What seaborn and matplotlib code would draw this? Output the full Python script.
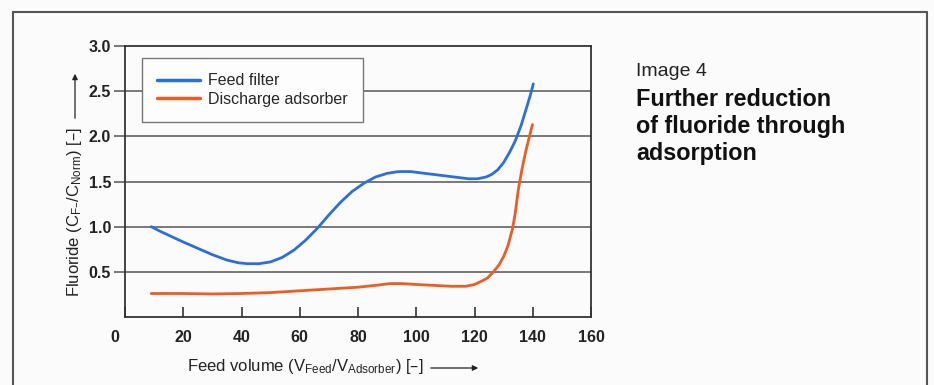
import matplotlib
matplotlib.use("Agg")
import matplotlib.pyplot as plt
import matplotlib.transforms as mtransforms
import seaborn as sns
import pandas as pd

# ---- data ----
feed_x = [9, 12, 16, 20, 25, 30, 35, 39, 42, 46, 50, 54, 58, 62, 66, 70, 74, 78, 82, 86, 90, 94,
          98, 103, 108, 113, 118, 121, 124, 126, 128, 130, 132, 134, 136, 138, 139.2, 140.2]
feed_y = [1.0, 0.95, 0.89, 0.83, 0.76, 0.69, 0.63, 0.60, 0.59, 0.59, 0.61, 0.66, 0.74, 0.85, 0.98,
          1.13, 1.27, 1.39, 1.48, 1.55, 1.59, 1.61, 1.61, 1.59, 1.57, 1.55, 1.53, 1.53, 1.55, 1.58,
          1.63, 1.71, 1.82, 1.95, 2.12, 2.33, 2.46, 2.58]

dis_x = [9, 20, 30, 40, 50, 60, 70, 80, 86, 91, 95, 100, 106, 112, 117, 120, 122, 124.4, 126.5,
         128.5, 130, 131.5, 133, 134, 135, 136.2, 137.5, 138.8, 139.9]
dis_y = [0.26, 0.26, 0.255, 0.26, 0.27, 0.29, 0.31, 0.33, 0.35, 0.37, 0.37, 0.36, 0.35, 0.34, 0.34,
         0.36, 0.39, 0.43, 0.50, 0.58, 0.67, 0.79, 0.97, 1.15, 1.40, 1.62, 1.82, 1.99, 2.13]

series_names = ["Feed filter", "Discharge adsorber"]
x_ticks = [0, 20, 40, 60, 80, 100, 120, 140, 160]
y_ticks = [0.5, 1.0, 1.5, 2.0, 2.5, 3.0]

df = pd.concat([
    pd.DataFrame({"x": feed_x, "y": feed_y, "series": series_names[0]}),
    pd.DataFrame({"x": dis_x, "y": dis_y, "series": series_names[1]}),
], ignore_index=True)

sns.set_style("white")
plt.rcParams["font.family"] = ["Liberation Sans", "DejaVu Sans"]
plt.rcParams["mathtext.default"] = "regular"

W, H = 934, 385
fig = plt.figure(figsize=(W / 100, H / 100), dpi=100)
fig.patch.set_facecolor("#fbfbfb")

def fx(px):
    return px / W

def fy(py):
    return 1 - py / H

ax = fig.add_axes([fx(125), fy(317), fx(591) - fx(125), fy(46) - fy(317)])
ax.set_facecolor("#fbfbfb")

grid_col = "#6e6e6e"
for v in y_ticks[:-1]:
    ax.axhline(v, color=grid_col, lw=1.3, zorder=1)

palette = {series_names[0]: "#2c6fd8", series_names[1]: "#ea5d24"}
sns.lineplot(data=df, x="x", y="y", hue="series", palette=palette, ax=ax,
             lw=2.0, sort=False, zorder=3)
for ln in ax.get_lines():
    ln.set_solid_joinstyle("round")
    ln.set_solid_capstyle("round")

ax.set_xlim(0, 160)
ax.set_ylim(0, 3.0)
ax.set_xticks(x_ticks)
ax.set_yticks(y_ticks)
ax.set_xticklabels([str(t) for t in x_ticks])
ax.set_yticklabels([f"{t:.1f}" for t in y_ticks])
ax.set_xlabel("")
ax.set_ylabel("")
ax.tick_params(axis="x", direction="in", length=7, width=1.2, color="#333333",
               labelsize=11.5, pad=9, labelcolor="#222222", bottom=True)
ax.tick_params(axis="y", direction="out", length=8, width=1.3, color=grid_col,
               labelsize=11.5, pad=2, labelcolor="#222222", left=True)
for lbl in ax.get_yticklabels() + ax.get_xticklabels():
    lbl.set_fontweight("bold")
# shift the origin "0" label a little to the left like the print
lbl0 = ax.get_xticklabels()[0]
lbl0.set_transform(lbl0.get_transform() + mtransforms.ScaledTranslation(-0.1, 0, fig.dpi_scale_trans))

for s in ax.spines.values():
    s.set_color("#333333")
    s.set_linewidth(1.3)

leg = ax.legend(loc="upper left", bbox_to_anchor=((142 - 125) / 466, 1 - (58 - 46) / 271),
                frameon=True, fancybox=False, fontsize=11.5, handlelength=2.7,
                handletextpad=0.5, borderpad=0.95, labelspacing=0.22, borderaxespad=0)
leg.get_frame().set_edgecolor("#777777")
leg.get_frame().set_linewidth(1.0)
leg.get_frame().set_facecolor("#fdfdfd")
leg.get_frame().set_alpha(1)
for line in leg.get_lines():
    line.set_linewidth(2.5)

# axis labels with arrows
fig.text(fx(187), fy(366), r"Feed volume (V$_{Feed}$/V$_{Adsorber}$) [–]", fontsize=12,
         ha="left", va="center", color="#222222")
fig.add_artist(matplotlib.patches.FancyArrowPatch(
    (fx(428), fy(368)), (fx(481), fy(368)), transform=fig.transFigure,
    arrowstyle="-|>", mutation_scale=8, lw=0.9, color="#222222"))

fig.text(fx(75), fy(212), r"Fluoride (C$_{F–}$/C$_{Norm}$) [–]", fontsize=12,
         ha="center", va="center", rotation=90, color="#222222")
fig.add_artist(matplotlib.patches.FancyArrowPatch(
    (fx(75), fy(121)), (fx(75), fy(71)), transform=fig.transFigure,
    arrowstyle="-|>", mutation_scale=8, lw=0.9, color="#222222"))

# caption
fig.text(fx(636), fy(76), "Image 4", fontsize=14, ha="left", va="baseline", color="#222222")
fig.text(fx(636), fy(106), "Further reduction", fontsize=16.8, fontweight="bold",
         ha="left", va="baseline", color="#111111")
fig.text(fx(636), fy(133), "of fluoride through", fontsize=16.8, fontweight="bold",
         ha="left", va="baseline", color="#111111")
fig.text(fx(636), fy(160), "adsorption", fontsize=16.8, fontweight="bold",
         ha="left", va="baseline", color="#111111")

# outer frame (left, top, right)
frame_col = "#555555"
fig.add_artist(matplotlib.lines.Line2D([fx(13), fx(13)], [fy(12), 0], transform=fig.transFigure,
                                        color=frame_col, lw=1.5))
fig.add_artist(matplotlib.lines.Line2D([fx(13), fx(927)], [fy(12), fy(12)], transform=fig.transFigure,
                                        color=frame_col, lw=1.5))
fig.add_artist(matplotlib.lines.Line2D([fx(927), fx(927)], [fy(12), 0], transform=fig.transFigure,
                                        color=frame_col, lw=1.5))

fig.savefig("out.png", dpi=100, facecolor=fig.get_facecolor())
